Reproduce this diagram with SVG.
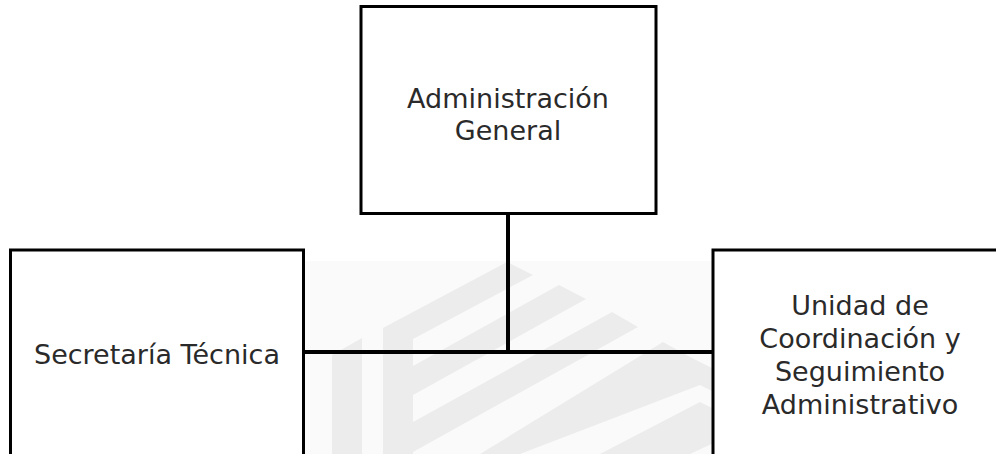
<svg xmlns="http://www.w3.org/2000/svg" width="996" height="454" viewBox="0 0 996 454">
  <style>
    .box { fill: #ffffff; stroke: #000000; stroke-width: 3; }
    .lbl { font-family: "DejaVu Sans", Verdana, sans-serif; font-size: 27px; fill: #2a2a2a; text-anchor: middle; }
    .wm { fill: #ececec; }
    .conn { stroke: #000000; stroke-width: 4; fill: none; }
  </style>
  <defs>
    <clipPath id="wmclip">
      <rect x="304" y="261" width="409" height="193"/>
    </clipPath>
  </defs>
  <rect x="0" y="0" width="996" height="454" fill="#ffffff"/>
  <g id="watermark" clip-path="url(#wmclip)">
    <rect x="304" y="261" width="409" height="193" fill="#fafafa"/>
    <polygon class="wm" points="332,355 362,338 362,454 332,454"/>
    <polygon class="wm" points="383,328 413,312 413,454 383,454"/>
    <polygon class="wm" points="413,312 507,262 533,275 413,339"/>
    <polygon class="wm" points="413,366 559,285 586,299 413,395"/>
    <polygon class="wm" points="413,422 612,312 638,327 413,452"/>
    <polygon class="wm" points="480,454 663,342 690,357 720,372 720,395 700,385 520,454"/>
    <polygon class="wm" points="600,454 700,402 720,412 720,440 690,454"/>
  </g>
  <g id="connectors">
    <line class="conn" x1="508" y1="213" x2="508" y2="352"/>
    <line class="conn" x1="304" y1="352" x2="713" y2="352"/>
  </g>
  <g id="node-admin">
    <rect class="box" x="361" y="6.5" width="295" height="207"/>
    <text class="lbl" x="508" y="108">Administración</text>
    <text class="lbl" x="508" y="140">General</text>
  </g>
  <g id="node-secretaria">
    <rect class="box" x="10.5" y="250" width="293" height="220"/>
    <text class="lbl" x="157" y="364">Secretaría Técnica</text>
  </g>
  <g id="node-unidad">
    <rect class="box" x="713" y="250" width="295" height="220"/>
    <text class="lbl" x="860" y="315">Unidad de</text>
    <text class="lbl" x="860" y="348">Coordinación y</text>
    <text class="lbl" x="860" y="381">Seguimiento</text>
    <text class="lbl" x="860" y="414">Administrativo</text>
  </g>
</svg>
